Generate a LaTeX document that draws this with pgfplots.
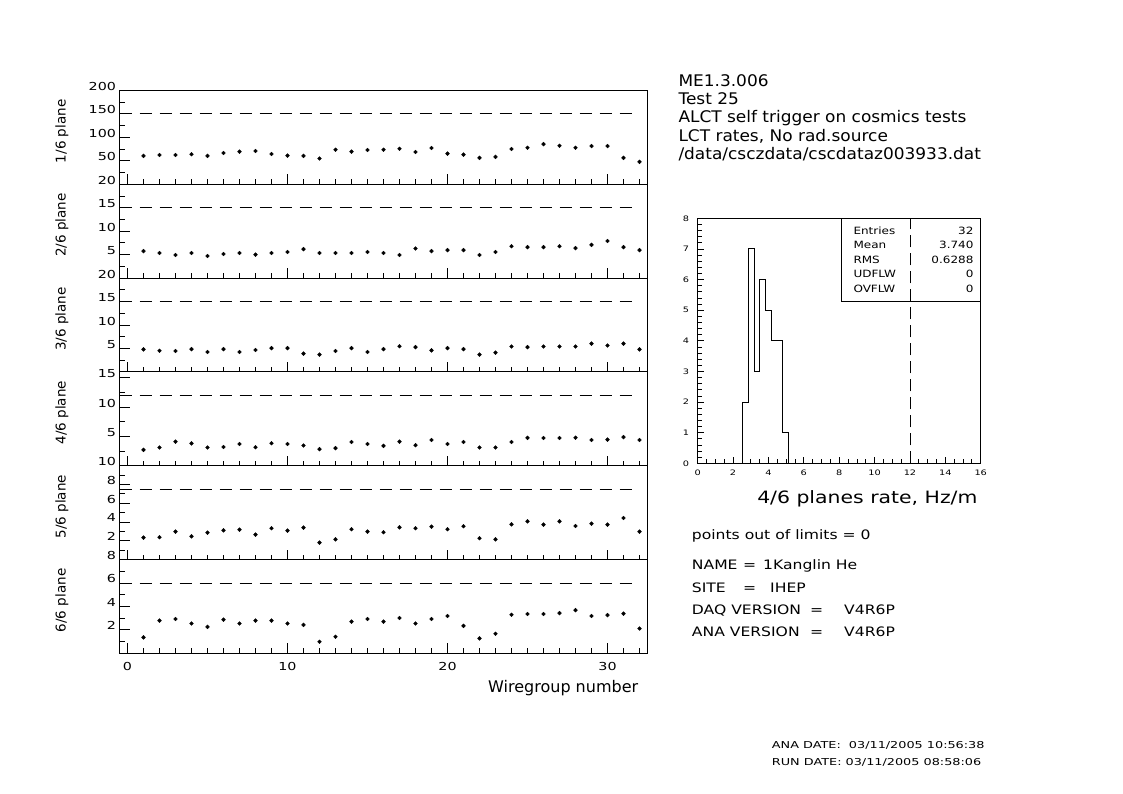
\documentclass[border=0pt]{standalone}
\usepackage{pgfplots}
\pgfplotsset{compat=1.18}
\usepackage{fontspec}
\setmainfont{DejaVu Sans}
\newfontfamily\rfA[FakeStretch=1.06]{DejaVu Sans}
\newfontfamily\rfB[FakeStretch=1.2]{DejaVu Sans}
\newfontfamily\rfC[FakeStretch=1.3]{DejaVu Sans}
\newfontfamily\rfD[FakeStretch=1.35]{DejaVu Sans}
\newfontfamily\rf{DejaVu Sans}

\pgfplotsset{
  panel/.style={
    scale only axis, width=528pt, height=93.8pt,
    xmin=-0.5, xmax=32.5, ymin=0,
    anchor=south west,
    axis line style={line width=0.9pt},
    every tick/.style={line width=0.9pt, black},
    tick align=inside,
    xtick pos=left, ytick pos=left,
    major tick length=10pt, minor tick length=5pt,
    xtick={0,10,20,30}, minor xtick={0,...,32},
    xticklabels={},
    /pgf/number format/assume math mode=true,
    yticklabel style={font=\rfC\fontsize{11}{13}\selectfont, yshift=4pt},
    xticklabel style={font=\rfC\fontsize{11}{13}\selectfont, yshift=-5pt},
  },
  pts/.style={only marks, mark=*, mark size=1.9pt, black},
  lim/.style={black, line width=0.9pt, dash pattern=on 12pt off 8pt},
}

\begin{document}
\begin{tikzpicture}[x=1pt,y=1pt]
\path[use as bounding box] (0,0) rectangle (1123,793);

% ---------- panel 1 ----------
\begin{axis}[panel, at={(119.5pt,608.7pt)}, ymax=200,
  ytick={50,100,150,200}, minor ytick={25,75,125,175}]
\addplot[lim] coordinates {(-0.5,150) (32,150)};
\addplot[pts] coordinates {
(1,60.5)(2,62.6)(3,62.6)(4,64)(5,60.5)(6,66.8)(7,69.6)(8,71)(9,64.7)(10,61.2)
(11,60.5)(12,54.9)(13,73.8)(14,69.6)(15,73)(16,73.8)(17,75.9)(18,68.9)(19,77.3)(20,65.4)
(21,63.3)(22,56.3)(23,58.4)(24,75.2)(25,78)(26,85.7)(27,82.2)(28,78)(29,81.5)(30,81.5)
(31,56.3)(32,47.9)};
\end{axis}

% ---------- panel 2 ----------
\begin{axis}[panel, at={(119.5pt,514.9pt)}, ymax=20,
  ytick={5,10,15,20}, minor ytick={2.5,7.5,12.5,17.5}]
\addplot[lim] coordinates {(-0.5,15) (32,15)};
\addplot[pts] coordinates {
(1,5.76)(2,5.35)(3,4.93)(4,5.35)(5,4.72)(6,5.14)(7,5.35)(8,5.0)(9,5.35)(10,5.56)
(11,6.18)(12,5.35)(13,5.35)(14,5.35)(15,5.56)(16,5.35)(17,4.93)(18,6.32)(19,5.76)(20,5.97)
(21,5.97)(22,4.93)(23,5.56)(24,6.8)(25,6.6)(26,6.6)(27,6.8)(28,6.4)(29,7.08)(30,7.9)
(31,6.6)(32,5.97)};
\end{axis}

% ---------- panel 3 ----------
\begin{axis}[panel, at={(119.5pt,421.1pt)}, ymax=20,
  ytick={5,10,15,20}, minor ytick={2.5,7.5,12.5,17.5}]
\addplot[lim] coordinates {(-0.5,15) (32,15)};
\addplot[pts] coordinates {
(1,4.8)(2,4.5)(3,4.45)(4,4.86)(5,4.24)(6,4.86)(7,4.24)(8,4.66)(9,5.07)(10,5.07)
(11,3.9)(12,3.69)(13,4.45)(14,5.07)(15,4.24)(16,4.86)(17,5.48)(18,5.28)(19,4.59)(20,5.07)
(21,4.86)(22,3.69)(23,4.1)(24,5.41)(25,5.28)(26,5.41)(27,5.41)(28,5.41)(29,6.03)(30,5.62)
(31,6.03)(32,4.8)};
\end{axis}

% ---------- panel 4 ----------
\begin{axis}[panel, at={(119.5pt,327.3pt)}, ymax=16,
  ytick={5,10,15}, minor ytick={2.5,7.5,12.5}]
\addplot[lim] coordinates {(-0.5,12) (32,12)};
\addplot[pts] coordinates {
(1,2.70)(2,3.10)(3,4.10)(4,3.80)(5,3.10)(6,3.18)(7,3.70)(8,3.15)(9,3.83)(10,3.70)
(11,3.44)(12,2.82)(13,3.00)(14,4.04)(15,3.70)(16,3.38)(17,4.10)(18,3.50)(19,4.38)(20,3.70)
(21,4.04)(22,3.10)(23,3.10)(24,4.04)(25,4.75)(26,4.72)(27,4.72)(28,4.78)(29,4.38)(30,4.45)
(31,4.88)(32,4.38)};
\end{axis}

% ---------- panel 5 ----------
\begin{axis}[panel, at={(119.5pt,233.5pt)}, ymax=10,
  ytick={2,4,6,8,10}, minor ytick={1,3,5,7,9}]
\addplot[lim] coordinates {(-0.5,7.5) (32,7.5)};
\addplot[pts] coordinates {
(1,2.33)(2,2.37)(3,2.97)(4,2.47)(5,2.86)(6,3.11)(7,3.18)(8,2.65)(9,3.33)(10,3.08)
(11,3.40)(12,1.80)(13,2.15)(14,3.22)(15,2.97)(16,2.90)(17,3.43)(18,3.33)(19,3.50)(20,3.22)
(21,3.54)(22,2.26)(23,2.15)(24,3.75)(25,4.07)(26,3.72)(27,4.07)(28,3.57)(29,3.82)(30,3.72)
(31,4.43)(32,2.97)};
\end{axis}

% ---------- panel 6 ----------
\begin{axis}[panel, at={(119.5pt,139.7pt)}, ymax=8,
  ytick={2,4,6,8}, minor ytick={1,3,5,7},
  xticklabels={0,10,20,30}]
\addplot[lim] coordinates {(-0.5,6) (32,6)};
\addplot[pts] coordinates {
(1,1.36)(2,2.79)(3,2.93)(4,2.54)(5,2.25)(6,2.87)(7,2.54)(8,2.79)(9,2.79)(10,2.54)
(11,2.42)(12,0.99)(13,1.41)(14,2.70)(15,2.93)(16,2.70)(17,3.01)(18,2.54)(19,2.93)(20,3.18)
(21,2.34)(22,1.27)(23,1.67)(24,3.29)(25,3.35)(26,3.35)(27,3.43)(28,3.68)(29,3.18)(30,3.26)
(31,3.38)(32,2.11)};
\end{axis}

% y labels of panels
\foreach \yy/\lab in {661.6/1, 567.8/2, 474/3, 380.2/4, 286.4/5, 192.6/6}
  \node[rotate=90, font=\rf\fontsize{13.5}{16}\selectfont] at (62,\yy) {\lab/6 plane};
\node[anchor=base east, font=\rf\fontsize{16}{19}\selectfont] at (641.7,100.5) {Wiregroup number};

% ---------- histogram ----------
\begin{axis}[at={(697.7pt,329.7pt)}, anchor=south west, scale only axis,
  width=283pt, height=245pt, xmin=0, xmax=16, ymin=0, ymax=8,
  xtick={0,2,...,16}, ytick={0,...,8}, minor x tick num=3, minor y tick num=4,
  tick align=inside, xtick pos=left, ytick pos=left,
  major tick length=6pt, minor tick length=4pt,
  axis line style={line width=0.9pt},
  every tick/.style={line width=0.8pt, black},
  /pgf/number format/assume math mode=true,
  ticklabel style={font=\rfC\fontsize{7.5}{9}\selectfont},
  xticklabel style={yshift=-3pt}, yticklabel style={xshift=-5pt}]
\addplot[const plot, black, line width=1pt] coordinates {
(0,0)(2.56,2)(2.88,7)(3.2,3)(3.52,6)(3.84,5)(4.16,4)(4.48,4)(4.8,1)(5.12,0)(16,0)};
\addplot[black, line width=0.9pt, dash pattern=on 12pt off 6pt] coordinates {(12,0)(12,8)};
\end{axis}
\draw[line width=0.9pt] (841,492) rectangle (980.7,574.7);
\begin{scope}[every node/.style={font=\rfB\fontsize{10}{12}\selectfont}]
\node[anchor=west] at (850,562.5) {Entries};
\node[anchor=west] at (850,548) {Mean};
\node[anchor=west] at (850,533.5) {RMS};
\node[anchor=west] at (850,519) {UDFLW};
\node[anchor=west] at (850,504.5) {OVFLW};
\node[anchor=east] at (977,562.5) {32};
\node[anchor=east] at (977,548) {3.740};
\node[anchor=east] at (977,533.5) {0.6288};
\node[anchor=east] at (977,519) {0};
\node[anchor=east] at (977,504.5) {0};
\end{scope}
\node[anchor=base east, font=\rfB\fontsize{17}{20}\selectfont] at (981,289.7) {4/6 planes rate, Hz/m};

% ---------- title block ----------
\begin{scope}[every node/.style={anchor=base west, inner sep=0pt, font=\rfA\fontsize{16}{19}\selectfont}]
\node at (678.3,706.3) {ME1.3.006};
\node at (678.3,688.3) {Test 25};
\node at (678.3,670) {ALCT self trigger on cosmics tests};
\node at (678.3,651.5) {LCT rates, No rad.source};
\node at (678.3,633) {/data/csczdata/cscdataz003933.dat};
\end{scope}

% ---------- info block ----------
\begin{scope}[every node/.style={anchor=base west, inner sep=0pt, font=\rfB\fontsize{13}{16}\selectfont}]
\node at (691.7,254) {points out of limits = 0};
\node at (691.7,223.3) {NAME};
\node at (743,223.3) {=};
\node at (763,223.3) {1Kanglin He};
\node at (691.7,200.3) {SITE};
\node at (743,200.3) {=};
\node at (770,200.3) {IHEP};
\node at (691.7,178.3) {DAQ VERSION};
\node at (810,178.3) {=};
\node at (844,178.3) {V4R6P};
\node at (691.7,156.3) {ANA VERSION};
\node at (810,156.3) {=};
\node at (844,156.3) {V4R6P};
\end{scope}

\begin{scope}[every node/.style={anchor=base west, inner sep=0pt, font=\rfD\fontsize{9.5}{11}\selectfont}]
\node at (771.7,44.7) {ANA DATE:\ \ 03/11/2005 10:56:38};
\node at (771.7,28) {RUN DATE:\ 03/11/2005 08:58:06};
\end{scope}
\end{tikzpicture}
\end{document}
